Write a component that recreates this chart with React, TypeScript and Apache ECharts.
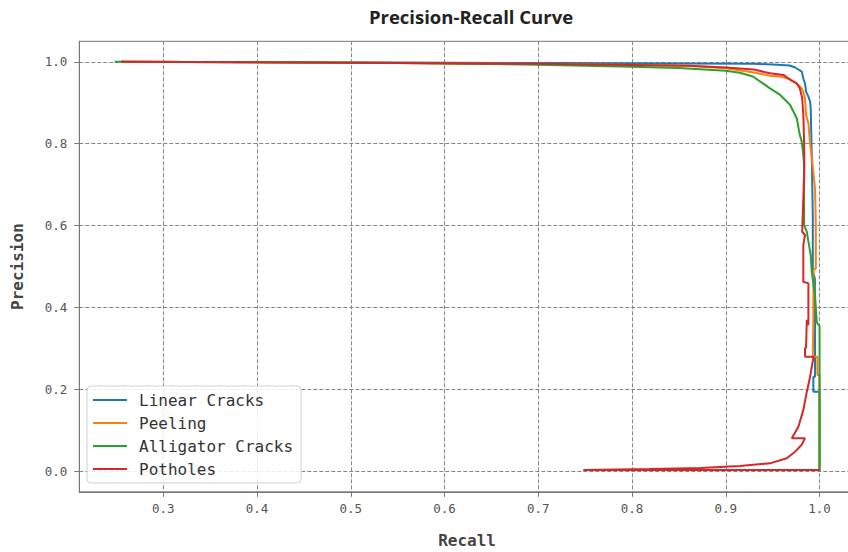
import React, { useEffect, useRef } from "react";
import * as echarts from "echarts";

// Recall/precision pairs
const linearCracks: number[][] = [
  [0.255, 1.0], [0.4, 0.999], [0.55, 0.998], [0.7, 0.997], [0.85, 0.996], [0.93, 0.995],
  [0.955, 0.993], [0.968, 0.991], [0.974, 0.986], [0.981, 0.976], [0.9827, 0.959],
  [0.9845, 0.947], [0.9856, 0.927], [0.9881, 0.915], [0.9899, 0.903], [0.9906, 0.886],
  [0.9917, 0.77], [0.9928, 0.62], [0.9928, 0.49], [0.995, 0.47], [0.9952, 0.353],
  [0.9952, 0.231], [0.9934, 0.231], [0.9934, 0.194], [1.0, 0.194], [1.0, 0.0],
];

const peeling: number[][] = [
  [0.255, 1.0], [0.4, 0.999], [0.55, 0.997], [0.7, 0.995], [0.8, 0.992], [0.86, 0.99],
  [0.9, 0.984], [0.93, 0.974], [0.9472, 0.966], [0.958, 0.964], [0.9685, 0.958],
  [0.9757, 0.947], [0.981, 0.935], [0.9827, 0.927], [0.9845, 0.911], [0.9856, 0.87],
  [0.9881, 0.85], [0.9899, 0.8], [0.9925, 0.75], [0.9952, 0.69], [0.996, 0.6],
  [0.996, 0.496], [0.9934, 0.49], [0.9934, 0.37], [0.9928, 0.28], [0.9977, 0.28],
  [0.9977, 0.235], [1.0, 0.235], [1.0, 0.0],
];

const alligatorCracks: number[][] = [
  [0.248, 1.0], [0.4, 0.999], [0.55, 0.997], [0.7, 0.993], [0.75, 0.99], [0.8, 0.988],
  [0.85, 0.985], [0.9, 0.978], [0.915, 0.973], [0.929, 0.964], [0.9472, 0.935],
  [0.958, 0.919], [0.9685, 0.895], [0.9757, 0.862], [0.979, 0.821], [0.981, 0.805],
  [0.9827, 0.772], [0.9835, 0.748], [0.9835, 0.601], [0.9864, 0.585], [0.9881, 0.561],
  [0.9906, 0.528], [0.9917, 0.487], [0.9952, 0.43], [0.997, 0.365], [0.998, 0.36],
  [1.0, 0.355], [1.0, 0.0],
];

const potholes: number[][] = [
  [0.255, 1.0], [0.4, 0.999], [0.55, 0.997], [0.7, 0.995], [0.8, 0.992], [0.86, 0.99],
  [0.9, 0.986], [0.93, 0.981], [0.9472, 0.972], [0.9614, 0.968], [0.9685, 0.956],
  [0.9757, 0.947], [0.979, 0.935], [0.9815, 0.911], [0.9827, 0.87], [0.9835, 0.805],
  [0.9838, 0.748], [0.9827, 0.667], [0.9815, 0.585], [0.9845, 0.577], [0.9827, 0.553],
  [0.9827, 0.463], [0.9881, 0.459], [0.9881, 0.357], [0.9864, 0.37], [0.9856, 0.301],
  [0.9845, 0.301], [0.9845, 0.28], [0.9934, 0.28], [0.9934, 0.277], [0.9899, 0.231],
  [0.9864, 0.194], [0.9827, 0.15], [0.9774, 0.109], [0.9704, 0.081], [0.9845, 0.081],
  [0.981, 0.065], [0.9739, 0.048], [0.965, 0.032], [0.9472, 0.0195], [0.915, 0.013],
  [0.873, 0.008], [0.819, 0.0055], [0.748, 0.0035], [1.0, 0.003],
];

const seriesNames = ["Linear Cracks", "Peeling", "Alligator Cracks", "Potholes"];
const seriesColors = ["#1f77b4", "#ff7f0e", "#2ca02c", "#d62728"];
const seriesData = [linearCracks, peeling, alligatorCracks, potholes];

const xTicks = [0.3, 0.4, 0.5, 0.6, 0.7, 0.8, 0.9, 1.0];
const yTicks = [0.0, 0.2, 0.4, 0.6, 0.8, 1.0];
const xRange = [0.2104, 1.0376];
const yRange = [-0.05, 1.05];

const MONO = "DejaVu Sans Mono";

export default function App() {
  const ref = useRef<HTMLDivElement>(null);
  useEffect(() => {
    if (!ref.current) return;
    const chart = echarts.init(ref.current, null, { renderer: "svg" });
    const axisCommon = {
      type: "value" as const,
      axisLine: { show: true, onZero: false, lineStyle: { color: "#777", width: 1 } },
      axisTick: { show: true, length: 5, inside: false, lineStyle: { color: "#777" } },
      splitLine: { show: true, lineStyle: { color: "#858585", type: [4, 2], width: 1 } },
      nameTextStyle: { fontFamily: MONO, fontSize: 16, fontWeight: "bold", color: "#444" },
    };
    chart.setOption({
      animation: false,
      backgroundColor: "#ffffff",
      title: {
        text: "Precision-Recall Curve",
        left: 466,
        top: 2,
        textAlign: "center",
        textStyle: { fontFamily: "Open Sans", fontWeight: "bold", fontSize: 18.5, color: "#222" },
      },
      grid: {
        left: 79.3,
        top: 41.3,
        width: 775.5,
        height: 450.5,
        outerBoundsMode: "none",
        containLabel: false,
        show: true,
        borderColor: "#777",
        borderWidth: 1,
        backgroundColor: "transparent",
      },
      legend: {
        orient: "vertical",
        left: 87,
        top: 386,
        data: seriesNames.map((n) => ({ name: n, icon: "rect" })),
        itemWidth: 34,
        itemHeight: 2,
        itemGap: 7,
        padding: [6, 8, 6, 6],
        borderColor: "#d0d0d0",
        borderWidth: 1,
        borderRadius: 4,
        backgroundColor: "rgba(255,255,255,0.85)",
        textStyle: { fontFamily: MONO, fontSize: 16, color: "#333", padding: [0, 0, 0, 7], lineHeight: 16 },
      },
      xAxis: {
        ...axisCommon,
        min: xRange[0],
        max: xRange[1],
        name: "Recall",
        nameLocation: "middle",
        nameGap: 41,
        axisTick: { ...axisCommon.axisTick, customValues: xTicks },
        axisLabel: {
          customValues: xTicks,
          formatter: (v: number) => v.toFixed(1),
          fontFamily: MONO,
          fontSize: 12.5,
          color: "#555",
          margin: 10,
        },
      },
      yAxis: {
        ...axisCommon,
        min: yRange[0],
        max: yRange[1],
        name: "Precision",
        nameLocation: "middle",
        nameGap: 54,
        axisTick: { ...axisCommon.axisTick, customValues: yTicks },
        axisLabel: {
          customValues: yTicks,
          formatter: (v: number) => v.toFixed(1),
          fontFamily: MONO,
          fontSize: 12.5,
          color: "#555",
          margin: 12,
        },
      },
      series: seriesData.map((d, i) => ({
        name: seriesNames[i],
        type: "line",
        data: d,
        symbol: "none",
        showSymbol: false,
        smooth: false,
        clip: true,
        color: seriesColors[i],
        lineStyle: { width: 2, color: seriesColors[i] },
        z: 2 + i,
      })),
    });
    return () => chart.dispose();
  }, []);
  return (
    <div
      ref={ref}
      style={{ position: "fixed", left: 0, top: 0, width: 848, height: 552, background: "#fff" }}
    />
  );
}
